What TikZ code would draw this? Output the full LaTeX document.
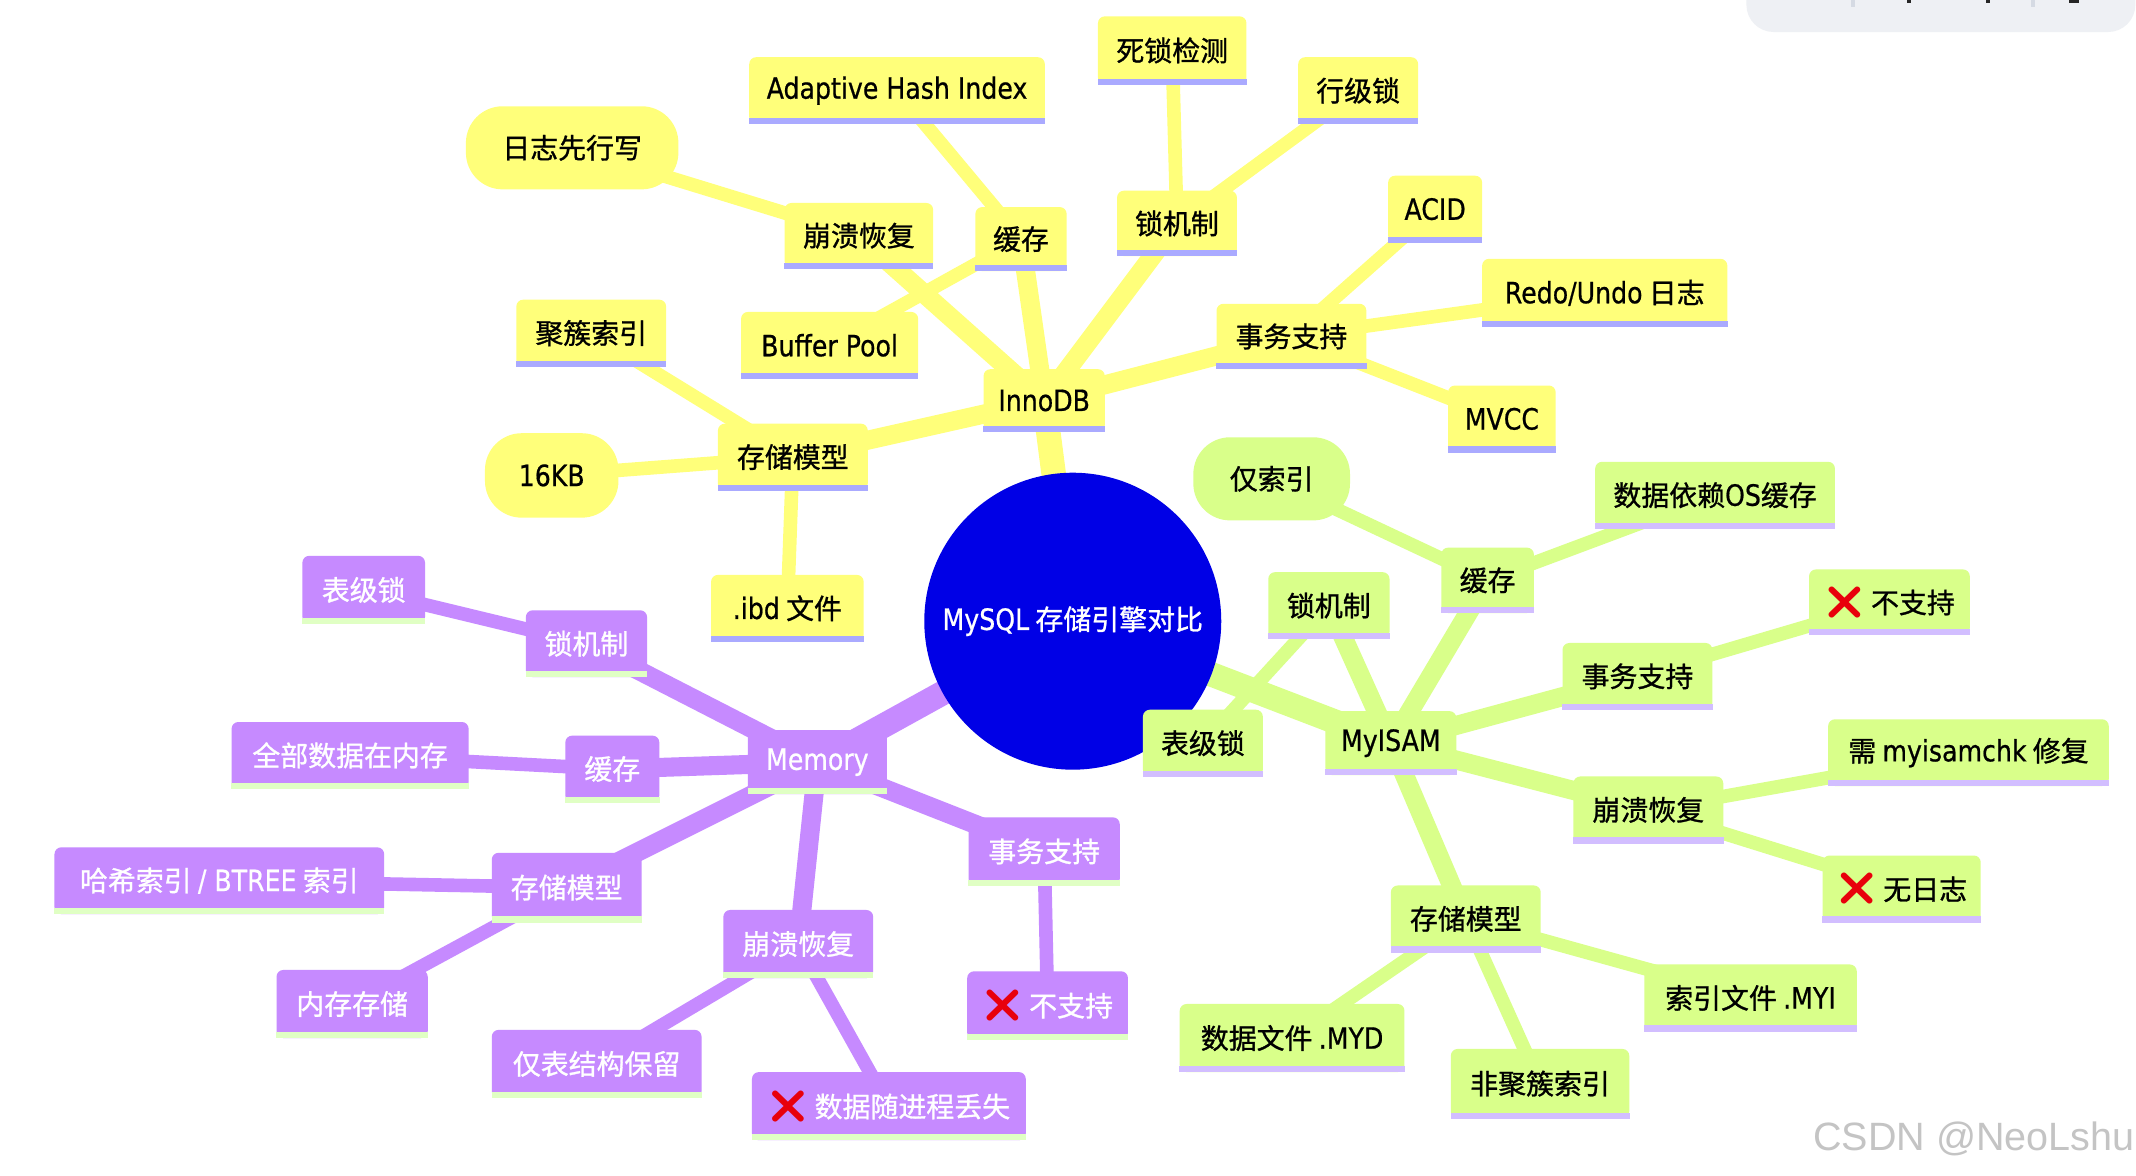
\documentclass[tikz,border=0pt]{standalone}
\usepackage{fontspec}
\setmainfont{Noto Sans CJK SC}[FakeBold=1]
\newfontfamily\lat{DejaVu Sans}[FakeStretch=0.86, Scale=1.05, FakeBold=0.6]
\newfontfamily\emj{Noto Emoji}[Scale=1.15]
\newfontfamily\wmf{Liberation Sans}
\pgfdeclarelayer{paper}
\pgfdeclarelayer{edges}
\pgfsetlayers{paper,edges,main}
\definecolor{ylw}{HTML}{FFFF7A}
\definecolor{ylwul}{HTML}{AAAAFF}
\definecolor{grn}{HTML}{D9FF8A}
\definecolor{grnul}{HTML}{D2BEFF}
\definecolor{prp}{HTML}{C68AFF}
\definecolor{prpul}{HTML}{E0FFC4}
\definecolor{rootc}{HTML}{0000E6}
\definecolor{xred}{HTML}{E8000B}
\definecolor{uibar}{HTML}{EEF0F4}
\definecolor{uisep}{HTML}{D5DAE3}
\definecolor{wmark}{HTML}{C4C4C4}
\newcommand\crossmk{{\emj\color{xred}❌}}
\newcommand\mmnode[7]{%
  \node[#6, minimum width=#4pt, minimum height=#5pt] (#1) at (#2,#3) {#7};
  \fill[ul#6] ([yshift=4.5pt]#1.south west) rectangle (#1.south east);
}
\tikzset{
  nodefont/.style={font=\fontsize{20.5}{24}\selectfont},
  boxbase/.style={rectangle, inner sep=0pt, rounded corners=5pt, nodefont},
  ybox/.style={boxbase, fill=ylw, text=black},
  gbox/.style={boxbase, fill=grn, text=black},
  pbox/.style={boxbase, fill=prp, text=white},
  ulybox/.style={fill=ylwul},
  ulgbox/.style={fill=grnul},
  ulpbox/.style={fill=prpul},
  ypill/.style={boxbase, rounded corners=27pt, fill=ylw, text=black},
  gpill/.style={boxbase, rounded corners=27pt, fill=grn, text=black},
  rootnode/.style={circle, fill=rootc, text=white, minimum size=218pt, inner sep=0pt, nodefont},
  ey0/.style={draw=ylw, line width=18pt},
  ey1/.style={draw=ylw, line width=14pt},
  ey2/.style={draw=ylw, line width=10pt},
  eg0/.style={draw=grn, line width=18pt},
  eg1/.style={draw=grn, line width=14pt},
  eg2/.style={draw=grn, line width=10pt},
  ep0/.style={draw=prp, line width=18pt},
  ep1/.style={draw=prp, line width=14pt},
  ep2/.style={draw=prp, line width=10pt},
}
\begin{document}
\begin{tikzpicture}[x=1pt,y=-1pt]
\useasboundingbox (0,0) rectangle (1568,863);
\begin{pgfonlayer}{paper}
\fill[white] (0,0) rectangle (1568,863);
\end{pgfonlayer}
% UI fragment top right
\fill[uibar, rounded corners=20pt] (1282,-40) rectangle (1567.5,23.5);
\fill[uisep] (1359,0) rectangle (1361.5,5);
\fill[uisep] (1491,0) rectangle (1493.5,5);
\fill[black!85] (1400,0) rectangle (1403,2);
\fill[black!85] (1458,0) rectangle (1461,2);
\fill[black!85] (1519,0) rectangle (1526,2.5);

% root
\node[rootnode] (root) at (787.5,456) {{\lat MySQL} 存储引擎对比};

% InnoDB (yellow)
\mmnode{innodb}{766.5}{294}{89}{46}{ybox}{\lat InnoDB}
\mmnode{icache}{749.5}{175.5}{67}{47}{ybox}{缓存}
\mmnode{iahi}{658.5}{66.5}{217}{49}{ybox}{\lat Adaptive Hash Index}
\mmnode{ibp}{609}{253.5}{130}{49}{ybox}{\lat Buffer Pool}
\mmnode{ilock}{864}{164}{88}{48}{ybox}{锁机制}
\mmnode{idead}{860.5}{37}{109}{50}{ybox}{死锁检测}
\mmnode{irow}{997}{66.5}{88}{49}{ybox}{行级锁}
\mmnode{icrash}{630.5}{173}{109}{48}{ybox}{崩溃恢复}
\node[ypill, minimum width=156pt, minimum height=61pt] (iwal) at (420,108.5) {日志先行写};
\mmnode{itx}{948}{247}{110}{48}{ybox}{事务支持}
\mmnode{iacid}{1053.5}{153.5}{69}{49}{ybox}{\lat ACID}
\mmnode{iredo}{1178}{215}{180}{50}{ybox}{{\lat Redo/Undo} 日志}
\mmnode{imvcc}{1102.5}{307.5}{79}{49}{ybox}{\lat MVCC}
\mmnode{istore}{582}{335.5}{110}{49}{ybox}{存储模型}
\mmnode{iclu}{434}{244.5}{110}{49}{ybox}{聚簇索引}
\node[ypill, minimum width=98pt, minimum height=62pt] (ikb) at (405,349) {\lat 16KB};
\mmnode{iibd}{578}{446.5}{112}{49}{ybox}{{\lat .ibd} 文件}

% MyISAM (green)
\mmnode{myisam}{1021}{545.5}{96}{47}{gbox}{\lat MyISAM}
\mmnode{mcache}{1092}{426}{68}{48}{gbox}{缓存}
\node[gpill, minimum width=115pt, minimum height=61pt] (midx) at (933.5,351.5) {仅索引};
\mmnode{mos}{1259}{363.5}{176}{49}{gbox}{数据依赖{\lat OS}缓存}
\mmnode{mlock}{975.5}{444.5}{89}{49}{gbox}{锁机制}
\mmnode{mtbl}{883}{545.5}{88}{49}{gbox}{表级锁}
\mmnode{mtx}{1202}{496.5}{110}{49}{gbox}{事务支持}
\mmnode{mnotx}{1387}{442}{118}{48}{gbox}{\crossmk\ 不支持}
\mmnode{mcrash}{1210}{594.5}{110}{49}{gbox}{崩溃恢复}
\mmnode{mchk}{1445}{552.5}{206}{49}{gbox}{需 {\lat myisamchk} 修复}
\mmnode{mnolog}{1396}{652.5}{116}{49}{gbox}{\crossmk\ 无日志}
\mmnode{mstore}{1076}{674.5}{110}{49}{gbox}{存储模型}
\mmnode{mmyd}{948.5}{762}{165}{50}{gbox}{数据文件 {\lat .MYD}}
\mmnode{mnonclu}{1130.5}{795.5}{131}{51}{gbox}{非聚簇索引}
\mmnode{mmyi}{1285}{732.5}{156}{49}{gbox}{索引文件 {\lat .MYI}}

% Memory (purple)
\mmnode{memory}{600}{559.5}{102}{47}{pbox}{\lat Memory}
\mmnode{plock}{430.5}{472.5}{89}{49}{pbox}{锁机制}
\mmnode{ptbl}{267}{433}{90}{50}{pbox}{表级锁}
\mmnode{pcache}{449.5}{564.5}{69}{49}{pbox}{缓存}
\mmnode{pall}{257}{554.5}{174}{49}{pbox}{全部数据在内存}
\mmnode{pstore}{416}{651.5}{110}{51}{pbox}{存储模型}
\mmnode{phash}{161}{646.5}{242}{49}{pbox}{哈希索引 {\lat / BTREE} 索引}
\mmnode{pmem}{258.5}{737}{111}{50}{pbox}{内存存储}
\mmnode{pcrash}{586}{693}{110}{50}{pbox}{崩溃恢复}
\mmnode{pschema}{438}{781}{154}{50}{pbox}{仅表结构保留}
\mmnode{plost}{652.5}{812}{201}{50}{pbox}{\crossmk\ 数据随进程丢失}
\mmnode{ptx}{766.5}{625}{111}{50}{pbox}{事务支持}
\mmnode{pnotx}{769}{738}{118}{50}{pbox}{\crossmk\ 不支持}

% watermark
\node[font=\wmf\fontsize{29}{32}\selectfont, text=wmark, inner sep=0pt] (wm) at (1449,836) {CSDN @NeoLshu};

\begin{pgfonlayer}{edges}
% yellow
\draw[ey0] (root.center) -- (innodb.center);
\foreach \c in {icache,ilock,icrash,itx,istore} \draw[ey1] (innodb.center) -- (\c.center);
\foreach \a/\b in {icache/iahi,icache/ibp,ilock/idead,ilock/irow,icrash/iwal,itx/iacid,itx/iredo,itx/imvcc,istore/iclu,istore/ikb,istore/iibd}
  \draw[ey2] (\a.center) -- (\b.center);
% green
\draw[eg0] (root.center) -- (myisam.center);
\foreach \c in {mcache,mlock,mtx,mcrash,mstore} \draw[eg1] (myisam.center) -- (\c.center);
\foreach \a/\b in {mcache/midx,mcache/mos,mlock/mtbl,mtx/mnotx,mcrash/mchk,mcrash/mnolog,mstore/mmyd,mstore/mnonclu,mstore/mmyi}
  \draw[eg2] (\a.center) -- (\b.center);
% purple
\draw[ep0] (root.center) -- (memory.center);
\foreach \c in {plock,pcache,pstore,pcrash,ptx} \draw[ep1] (memory.center) -- (\c.center);
\foreach \a/\b in {plock/ptbl,pcache/pall,pstore/phash,pstore/pmem,pcrash/pschema,pcrash/plost,ptx/pnotx}
  \draw[ep2] (\a.center) -- (\b.center);
\end{pgfonlayer}
\end{tikzpicture}
\end{document}
